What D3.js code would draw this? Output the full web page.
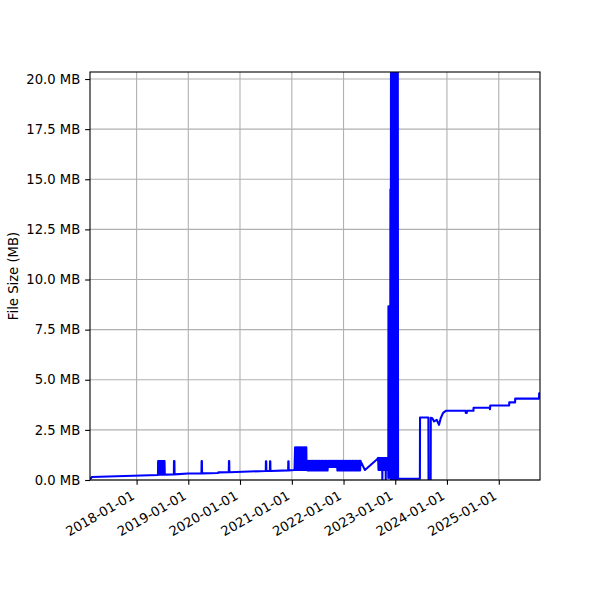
<!DOCTYPE html>
<html>
<head>
<meta charset="utf-8">
<script src="https://cdn.jsdelivr.net/npm/d3@7"></script>
<style>
  body { margin: 0; background: #fff; }
  text { font-family: "DejaVu Sans", sans-serif; fill: #000; }
</style>
</head>
<body>
<script>
/* ------------------------------- Chart data ------------------------------- */
// one sample per row position: dates[i] goes with sizesMB[i]
const dates = [
    // early baseline + first burst
    "2017-02-06","2017-02-19","2018-06-01",
    "2018-06-02","2018-06-05","2018-06-08","2018-06-11","2018-06-14","2018-06-17","2018-06-20","2018-06-23",
    "2018-06-26","2018-06-29","2018-07-02","2018-07-05","2018-07-08","2018-07-11","2018-07-14","2018-07-17","2018-07-19",
    // single spikes
    "2018-09-21","2018-09-22","2018-09-25","2018-09-26","2018-12-31",
    "2019-04-04","2019-04-05","2019-04-07","2019-04-08","2019-07-30","2019-08-01",
    "2019-10-14","2019-10-15","2019-10-17","2019-10-18",
    "2020-07-01","2020-07-02","2020-07-04","2020-07-05",
    "2020-07-30","2020-07-31","2020-08-02","2020-08-03",
    "2020-12-06","2020-12-07","2020-12-09","2020-12-10","2021-01-20",
    // tall burst early 2021
    "2021-01-24","2021-01-28","2021-02-01","2021-02-05","2021-02-09","2021-02-13","2021-02-17","2021-02-21","2021-02-25","2021-03-01",
    "2021-03-05","2021-03-09","2021-03-13","2021-03-17","2021-03-21","2021-03-25","2021-03-29","2021-04-02","2021-04-06","2021-04-10",
    "2021-04-13","2021-04-15",
    // long burst 2021-2022
    "2021-04-18","2021-04-23","2021-04-28","2021-05-03","2021-05-08","2021-05-13","2021-05-18","2021-05-23","2021-05-28","2021-06-02",
    "2021-06-07","2021-06-12","2021-06-17","2021-06-22","2021-06-27","2021-07-02","2021-07-07","2021-07-12","2021-07-17","2021-07-22",
    "2021-07-27","2021-08-01","2021-08-06","2021-08-11","2021-08-16","2021-08-21","2021-08-26","2021-08-31","2021-09-05","2021-09-10",
    "2021-09-15","2021-09-20","2021-09-25","2021-09-30","2021-10-05","2021-10-10","2021-10-15","2021-10-20","2021-10-25","2021-10-30",
    "2021-11-04","2021-11-09","2021-11-14","2021-11-19","2021-11-24","2021-11-29","2021-12-04","2021-12-09","2021-12-14","2021-12-19",
    "2021-12-24","2021-12-29","2022-01-03","2022-01-08","2022-01-13","2022-01-18","2022-01-23","2022-01-28","2022-02-02","2022-02-07",
    "2022-02-12","2022-02-17","2022-02-22","2022-02-27","2022-03-04","2022-03-09","2022-03-14","2022-03-19","2022-03-24","2022-03-29",
    "2022-04-03","2022-04-08","2022-04-13","2022-04-18","2022-04-23","2022-04-28","2022-05-01",
    // dip and burst before the big spike
    "2022-05-04","2022-06-01","2022-08-28",
    "2022-09-02","2022-09-05","2022-09-08","2022-09-11","2022-09-14","2022-09-17","2022-09-20","2022-09-23","2022-09-26","2022-09-29",
    "2022-10-01","2022-10-02","2022-10-03","2022-10-06","2022-10-09","2022-10-12","2022-10-15","2022-10-18","2022-10-21","2022-10-24",
    "2022-10-25","2022-10-26","2022-10-27","2022-10-30","2022-11-02","2022-11-05","2022-11-08","2022-11-11","2022-11-12",
    // big spike
    "2022-11-13","2022-11-14","2022-11-25","2022-11-26","2022-11-28","2022-11-30",
    "2022-12-02","2022-12-04","2022-12-06","2022-12-08","2022-12-10","2022-12-12","2022-12-14","2022-12-16",
    "2022-12-18","2022-12-20","2022-12-22","2022-12-24","2022-12-26","2022-12-28","2022-12-30","2023-01-01",
    "2023-01-03","2023-01-05","2023-01-07","2023-01-09","2023-01-11","2023-01-13","2023-01-15","2023-01-17",
    "2023-01-19","2023-01-21",
    // tail
    "2023-01-23","2023-06-24","2023-06-25","2023-08-23","2023-08-24","2023-09-08","2023-09-09",
    "2023-09-20","2023-10-02","2023-10-21","2023-11-06","2023-11-18","2023-12-05","2023-12-24",
    "2024-05-12","2024-05-13","2024-05-20","2024-05-21","2024-07-06","2024-07-07",
    "2024-10-29","2024-10-31","2024-11-02","2025-03-15","2025-03-16","2025-04-26","2025-04-27",
    "2025-10-12","2025-10-13","2025-10-19"
];

const sizesMB = [
    0.03, 0.15, 0.25,
    0.95, 0.26, 0.95, 0.26, 0.95, 0.26, 0.95, 0.26,
    0.95, 0.26, 0.95, 0.26, 0.95, 0.26, 0.95, 0.95, 0.27,

    0.28, 0.95, 0.95, 0.28, 0.32,
    0.33, 0.95, 0.95, 0.33, 0.35, 0.38,
    0.39, 0.95, 0.95, 0.39,
    0.45, 0.93, 0.93, 0.45,
    0.45, 0.93, 0.93, 0.45,
    0.48, 0.93, 0.93, 0.48, 0.50,

    1.63, 0.50, 1.63, 0.50, 1.63, 0.50, 1.63, 0.50, 1.63, 0.50,
    1.63, 0.50, 1.63, 0.50, 1.63, 0.50, 1.63, 0.50, 1.63, 0.50,
    1.63, 0.50,

    0.96, 0.47, 0.96, 0.47, 0.96, 0.47, 0.96, 0.47, 0.96, 0.47,
    0.96, 0.47, 0.96, 0.47, 0.96, 0.47, 0.96, 0.47, 0.96, 0.47,
    0.96, 0.47, 0.96, 0.47, 0.96, 0.47, 0.96, 0.47, 0.96, 0.47,
    0.96, 0.65, 0.96, 0.65, 0.96, 0.65, 0.96, 0.65, 0.96, 0.65,
    0.96, 0.65, 0.96, 0.47, 0.96, 0.47, 0.96, 0.47, 0.96, 0.47,
    0.96, 0.47, 0.96, 0.47, 0.96, 0.47, 0.96, 0.47, 0.96, 0.47,
    0.96, 0.47, 0.96, 0.47, 0.96, 0.47, 0.96, 0.47, 0.96, 0.47,
    0.96, 0.47, 0.96, 0.47, 0.96, 0.47, 0.96,

    0.90, 0.50, 1.05,
    1.10, 0.50, 1.10, 0.50, 1.10, 0.50, 1.10, 0.50, 1.10, 0.50,
    1.10, 0.00, 1.10, 0.50, 1.10, 0.50, 1.10, 0.50, 1.10, 0.50,
    1.10, 0.00, 1.10, 0.50, 1.10, 0.50, 1.10, 0.50, 1.10,

    0.10, 8.66, 8.66, 0.10, 14.50, 0.05,
    20.35, 0.05, 20.35, 0.05, 20.35, 0.05, 20.35, 0.05,
    20.35, 0.05, 20.35, 0.05, 20.35, 0.05, 20.35, 0.05,
    20.35, 0.05, 20.35, 0.05, 20.35, 0.05, 20.35, 0.05,
    20.35, 0.05,

    0.06, 0.06, 3.12, 3.12, 0.00, 0.00, 3.10,
    3.08, 2.92, 3.00, 2.75, 3.08, 3.35, 3.45,
    3.45, 3.35, 3.35, 3.45, 3.45, 3.60,
    3.60, 3.53, 3.72, 3.72, 3.87, 3.87, 4.06,
    4.06, 4.32, 4.32
];

const yTicks = [0, 2.5, 5, 7.5, 10, 12.5, 15, 17.5, 20];
const xTickLabels = ["2018-01-01","2019-01-01","2020-01-01","2021-01-01",
                     "2022-01-01","2023-01-01","2024-01-01","2025-01-01"];
const yLabel = "File Size (MB)";

/* ------------------------------ Window layout ----------------------------- */
const width = 600;
const height = 600;
const margin = {top: 72, right: 60, bottom: 120, left: 90};
const fontSize = 13.2;
const tickLen = 4.86;
const tickPad = 4.86;
const gridColor = "#b0b0b0";
const lineColor = "#0000ff";

const parse = d3.utcParse("%Y-%m-%d");
const points = d3.zip(dates, sizesMB).map(([d, v]) => ({date: parse(d), size: v}));

/* ------------------------------- Main SVG --------------------------------- */
const svg = d3.select("body").append("svg")
    .attr("width", width)
    .attr("height", height);

svg.append("rect").attr("width", width).attr("height", height).attr("fill", "#fff");

const x = d3.scaleUtc()
    .domain(d3.extent(points, d => d.date))
    .range([margin.left, width - margin.right]);

const y = d3.scaleLinear()
    .domain([0, d3.max(points, d => d.size)])
    .range([height - margin.bottom, margin.top]);

const xTicks = xTickLabels.map(parse);

//grid lines
const grid = svg.append("g").attr("stroke", gridColor).attr("stroke-width", 1.1);
grid.selectAll(".gx").data(xTicks).join("line")
    .attr("x1", d => x(d)).attr("x2", d => x(d))
    .attr("y1", margin.top).attr("y2", height - margin.bottom);
grid.selectAll(".gy").data(yTicks).join("line")
    .attr("x1", margin.left).attr("x2", width - margin.right)
    .attr("y1", d => y(d)).attr("y2", d => y(d));

//clip to plot area
svg.append("clipPath").attr("id", "plot-clip")
    .append("rect")
    .attr("x", margin.left).attr("y", margin.top)
    .attr("width", width - margin.left - margin.right)
    .attr("height", height - margin.top - margin.bottom);

const line = d3.line()
    .x(d => x(d.date))
    .y(d => y(d.size));

svg.append("path")
    .datum(points)
    .attr("clip-path", "url(#plot-clip)")
    .attr("fill", "none")
    .attr("stroke", lineColor)
    .attr("stroke-width", 2.08)
    .attr("stroke-linejoin", "round")
    .attr("d", line);

/* ---------------------------------- Axes ---------------------------------- */
const xAxis = svg.append("g")
    .attr("transform", `translate(0,${height - margin.bottom})`)
    .call(d3.axisBottom(x)
        .tickValues(xTicks)
        .tickFormat(d3.utcFormat("%Y-%m-%d"))
        .tickSize(tickLen)
        .tickSizeOuter(0));

xAxis.select(".domain").remove();
xAxis.selectAll(".tick line").attr("stroke", "#000").attr("stroke-width", 1.1);
xAxis.selectAll(".tick text")
    .attr("font-family", "DejaVu Sans")
    .attr("font-size", fontSize)
    .attr("fill", "#000")
    .attr("x", 0).attr("y", 0).attr("dy", null)
    .attr("text-anchor", "end")
    .attr("transform", "translate(-1.6,18.3) rotate(-30)");

const yAxis = svg.append("g")
    .attr("transform", `translate(${margin.left},0)`)
    .call(d3.axisLeft(y)
        .tickValues(yTicks)
        .tickFormat(d => d3.format(".1f")(d) + " MB")
        .tickSize(tickLen)
        .tickPadding(tickPad)
        .tickSizeOuter(0));

yAxis.select(".domain").remove();
yAxis.selectAll(".tick line").attr("stroke", "#000").attr("stroke-width", 1.1);
yAxis.selectAll(".tick text")
    .attr("font-family", "DejaVu Sans")
    .attr("font-size", fontSize)
    .attr("fill", "#000");

//axis title
svg.append("text")
    .attr("transform", `translate(18,${(margin.top + height - margin.bottom) / 2}) rotate(-90)`)
    .attr("text-anchor", "middle")
    .attr("font-size", fontSize)
    .text(yLabel);

//spines on top
svg.append("rect")
    .attr("x", margin.left).attr("y", margin.top)
    .attr("width", width - margin.left - margin.right)
    .attr("height", height - margin.top - margin.bottom)
    .attr("fill", "none")
    .attr("stroke", "#000")
    .attr("stroke-width", 1.1);
</script>
</body>
</html>
